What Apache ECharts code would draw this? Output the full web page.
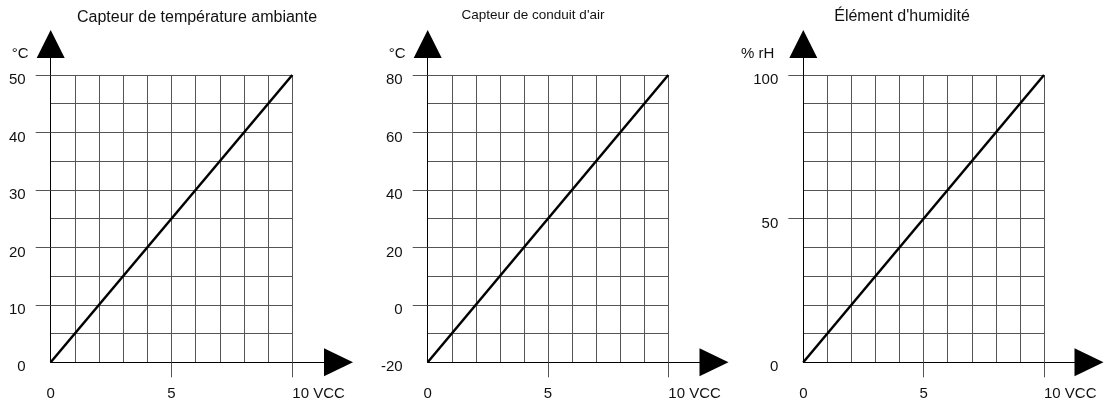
<!DOCTYPE html>
<html>
<head>
<meta charset="utf-8">
<title>Capteurs 0-10 VCC</title>
<script src="https://cdn.jsdelivr.net/npm/echarts@6/dist/echarts.min.js"></script>
<style>
  html, body { margin: 0; padding: 0; background: #fff; }
  #chart { width: 1109px; height: 406px; }
</style>
</head>
<body>
<div id="chart"></div>
<script>
const titles = ['Capteur de température ambiante', "Capteur de conduit d'air", "Élément d'humidité"];
const units = ['°C', '°C', '% rH'];
const volts = [0, 10];
const ambientTemp = [0, 50];
const ductTemp = [-20, 80];
const humidity = [0, 100];
const voltTicks = [0, 5, 10];
const ambientTicks = [0, 10, 20, 30, 40, 50];
const ductTicks = [-20, 0, 20, 40, 60, 80];
const humidityTicks = [0, 50, 100];

const fontFamily = "'Liberation Sans', Arial, sans-serif";
const textColor = '#111';
const gridColor = '#555';

// mise en page de chaque petit graphique
const panels = [
  { title: titles[0], unit: units[0], values: ambientTemp, ticks: ambientTicks, minor: 2,
    left: 50.7, right: 816.7, arrowRight: 770.5, titleX: 197, titleTop: 9.5, titleSize: 16, unitGap: 22 },
  { title: titles[1], unit: units[1], values: ductTemp, ticks: ductTicks, minor: 2,
    left: 427.7, right: 440.7, arrowRight: 395, titleX: 533, titleTop: 8.5, titleSize: 13.5, unitGap: 22 },
  { title: titles[2], unit: units[2], values: humidity, ticks: humidityTicks, minor: 5,
    left: 803.3, right: 65, arrowRight: 20, titleX: 902, titleTop: 9, titleSize: 16, unitGap: 29 },
]

const gridTop = 75
const gridBottom = 43.7
const arrowTop = 44

const grids = []
const xAxes = []
const yAxes = []
const series = []

const splitStyle = { show: true, lineStyle: { color: gridColor, width: 1 } }
// axe noir avec flèche pleine au bout
const arrowLine = (size) => ({
  show: true,
  onZero: false,
  symbol: ['none', 'triangle'],
  symbolSize: size,
  lineStyle: { color: '#000', width: 1 },
})

panels.forEach((p, i) => {
  const main = i * 2
  const arrow = i * 2 + 1
  const yMin = p.ticks[0]
  const yMax = p.ticks[p.ticks.length - 1]

  grids.push({ left: p.left, right: p.right, top: gridTop, bottom: gridBottom })
  grids.push({ left: p.left, right: p.arrowRight, top: arrowTop, bottom: gridBottom })

  xAxes.push({
    gridIndex: main,
    type: 'value',
    min: voltTicks[0],
    max: voltTicks[voltTicks.length - 1],
    interval: voltTicks[1] - voltTicks[0],
    axisLine: { show: false, onZero: false },
    axisTick: { show: true, customValues: voltTicks.slice(1), length: 15, lineStyle: { color: gridColor } },
    minorTick: { show: false, splitNumber: 5 },
    splitLine: splitStyle,
    minorSplitLine: splitStyle,
    axisLabel: {
      margin: 24,
      fontSize: 15,
      color: textColor,
      fontFamily,
      alignMaxLabel: 'left',
      formatter: (v) => (v === voltTicks[voltTicks.length - 1] ? v + ' VCC' : String(v)),
    },
  })
  xAxes.push({
    gridIndex: arrow,
    type: 'value',
    min: 0,
    max: 1,
    axisLine: arrowLine([28, 29]),
    axisTick: { show: false },
    axisLabel: { show: false },
    splitLine: { show: false },
  })

  yAxes.push({
    gridIndex: main,
    type: 'value',
    min: yMin,
    max: yMax,
    interval: p.ticks[1] - p.ticks[0],
    name: p.unit,
    nameLocation: 'end',
    nameGap: 21,
    nameTextStyle: {
      align: 'right',
      verticalAlign: 'middle',
      padding: [0, p.unitGap, 0, 0],
      fontSize: 15,
      color: textColor,
      fontFamily,
    },
    axisLine: { show: false, onZero: false },
    axisTick: { show: true, customValues: p.ticks.slice(1), length: 15, lineStyle: { color: gridColor } },
    minorTick: { show: false, splitNumber: p.minor },
    splitLine: splitStyle,
    minorSplitLine: splitStyle,
    axisLabel: { margin: 25, fontSize: 15, color: textColor, fontFamily, verticalAlign: 'top', lineHeight: 10 },
  })
  yAxes.push({
    gridIndex: arrow,
    type: 'value',
    min: 0,
    max: 1,
    axisLine: arrowLine([28, 28]),
    axisTick: { show: false },
    axisLabel: { show: false },
    splitLine: { show: false },
  })

  series.push({
    type: 'line',
    xAxisIndex: main,
    yAxisIndex: main,
    data: volts.map((v, k) => [v, p.values[k]]),
    showSymbol: false,
    silent: true,
    lineStyle: { color: '#000', width: 2.5 },
    z: 5,
  })
})

const chart = echarts.init(document.getElementById('chart'))
chart.setOption({
  animation: false,
  backgroundColor: '#fff',
  title: panels.map((p) => ({
    text: p.title,
    left: p.titleX,
    top: p.titleTop,
    textAlign: 'center',
    padding: 0,
    textStyle: { fontSize: p.titleSize, fontWeight: 'normal', color: textColor, fontFamily },
  })),
  grid: grids,
  xAxis: xAxes,
  yAxis: yAxes,
  series,
})
</script>
</body>
</html>
